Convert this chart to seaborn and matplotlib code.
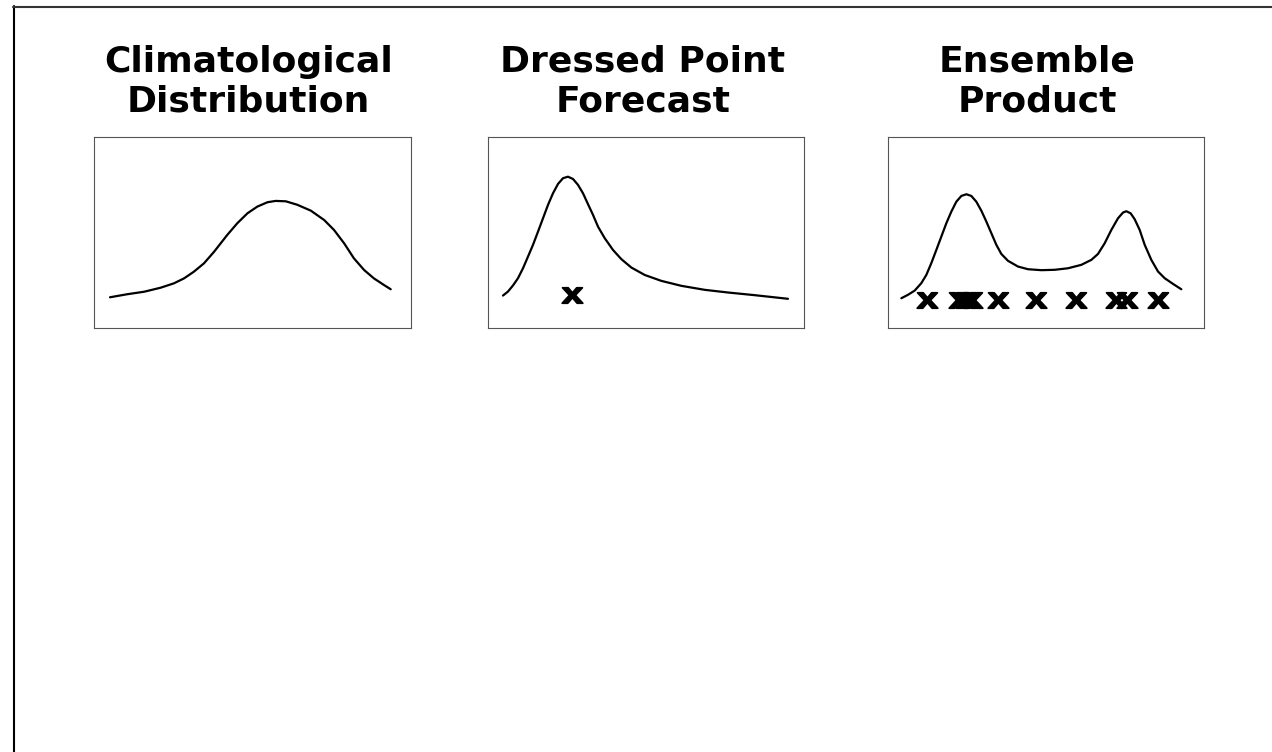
import numpy as np
import pandas as pd
import matplotlib
matplotlib.use("Agg")
import matplotlib.pyplot as plt
import seaborn as sns
from matplotlib.textpath import TextPath
from matplotlib.font_manager import FontProperties
from matplotlib.path import Path
from matplotlib.lines import Line2D

# ---------------- data (schematic units, 0-100 in each panel) ----------------
titles = ["Climatological\nDistribution", "Dressed Point\nForecast", "Ensemble\nProduct"]

clim_x = [5.05, 10.5, 15.8, 21.0, 25.2, 28.4, 31.5, 34.7, 37.9, 42.0, 45.2, 48.4, 51.5,
          54.7, 57.3, 60.5, 64.1, 68.4, 72.6, 75.7, 78.9, 82.0, 85.2, 88.3, 91.5, 93.6]
clim_y = [16.0, 17.6, 18.9, 21.0, 23.3, 25.9, 29.4, 33.8, 39.9, 48.6, 54.8, 60.0, 63.5,
          65.8, 66.5, 66.3, 64.5, 61.4, 56.5, 51.3, 44.3, 36.4, 30.3, 25.9, 22.4, 20.2]

dressed_x = [4.65, 6.23, 7.82, 9.40, 10.98, 12.56, 14.15, 15.73, 17.31, 18.89, 20.47,
             22.06, 23.64, 25.22, 26.80, 28.39, 29.97, 31.55, 33.13, 34.72, 36.83,
             39.46, 42.09, 45.25, 49.49, 54.75, 61.08, 68.48, 75.85, 84.30, 94.84]
dressed_y = [16.9, 19.0, 22.2, 26.0, 31.2, 37.3, 43.5, 50.4, 57.4, 64.4, 70.5,
             75.4, 78.4, 79.2, 78.0, 74.9, 70.5, 64.8, 59.2, 53.0, 47.0,
             40.8, 36.0, 31.6, 27.7, 24.6, 22.0, 19.9, 18.5, 17.1, 15.2]
point_x = [26.4]
point_y = [17.3]

ens_x = [4.31, 6.41, 8.52, 10.62, 12.20, 13.78, 15.36, 16.94, 18.52, 20.10, 21.68,
         23.26, 24.84, 26.42, 27.99, 29.57, 31.15, 32.73, 34.31, 35.89, 38.00, 41.16,
         44.32, 48.53, 52.74, 56.95, 61.16, 64.32, 66.42, 68.53, 70.64, 72.74, 74.32,
         75.37, 76.74, 78.01, 79.59, 81.17, 83.27, 85.38, 87.48, 90.12, 92.74]
ens_y = [15.5, 17.3, 19.5, 23.4, 27.7, 33.9, 40.8, 47.8, 54.8, 60.9, 66.1,
         69.1, 70.0, 69.1, 66.1, 61.4, 55.7, 49.6, 43.5, 38.7, 35.1, 32.1,
         30.7, 30.2, 30.4, 31.2, 33.0, 35.6, 38.7, 44.3, 51.3, 57.4, 60.4,
         61.1, 60.0, 56.9, 51.3, 43.5, 35.6, 29.5, 26.0, 23.0, 20.2]
member_x = [12.3, 22.5, 24.7, 26.6, 34.7, 46.9, 59.6, 72.0, 75.6, 85.4]
member_y = [14.7, 14.7, 14.7, 14.7, 14.7, 14.7, 14.7, 14.7, 14.7, 14.7]

# ---------------- style ----------------
sns.set_style("white")
plt.rcParams["font.family"] = ["DejaVu Sans"]

# bold "x" glyph marker, widened like the reference
tp = TextPath((0, 0), "x", size=1,
              prop=FontProperties(family="Liberation Sans", weight="bold"))
ext = tp.get_extents()
v = tp.vertices.copy()
v[:, 0] = (v[:, 0] - (ext.x0 + ext.x1) / 2) * 1.3
v[:, 1] = v[:, 1] - (ext.y0 + ext.y1) / 2
x_marker = Path(v, tp.codes)

fig = plt.figure(figsize=(12.72, 7.52), dpi=100)
fig.patch.set_facecolor("white")

W, H = 1272, 752
boxes = [(94, 317), (488.3, 316), (887.7, 316.6)]
bottom = 1 - 327.8 / H
height = 190.8 / H
title_cx = [248.5, 643.0, 1037.0]

curves = [(clim_x, clim_y), (dressed_x, dressed_y), (ens_x, ens_y)]
marks = [None, (point_x, point_y), (member_x, member_y)]

for i in range(3):
    left, w = boxes[i]
    ax = fig.add_axes([left / W, bottom, w / W, height])
    cx, cy = curves[i]
    df = pd.DataFrame({"x": cx, "y": cy})
    sns.lineplot(data=df, x="x", y="y", ax=ax, color="black", linewidth=1.6,
                 sort=False, estimator=None)
    if marks[i] is not None:
        mdf = pd.DataFrame({"x": marks[i][0], "y": marks[i][1]})
        sns.scatterplot(data=mdf, x="x", y="y", ax=ax, marker=x_marker, s=230,
                        color="black", edgecolor="black", linewidth=1.3, zorder=3)
    ax.set_xlim(0, 100)
    ax.set_ylim(0, 100)
    ax.set_xticks([])
    ax.set_yticks([])
    ax.set_xlabel("")
    ax.set_ylabel("")
    for sp in ax.spines.values():
        sp.set_color("#555555")
        sp.set_linewidth(0.8)
    fig.text(title_cx[i] / W, 1 - 45 / H, titles[i], ha="center", va="top",
             fontsize=26, fontweight="bold", linespacing=1.2, color="black")

# slide frame lines (left and top)
fig.add_artist(Line2D([13.5 / W, 13.5 / W], [0, 1 - 5.5 / H],
                      transform=fig.transFigure, color="black", linewidth=1.5))
fig.add_artist(Line2D([12.8 / W, 1], [1 - 6.5 / H, 1 - 6.5 / H],
                      transform=fig.transFigure, color="#333333", linewidth=1.5))

fig.savefig("out.png", dpi=100, facecolor="white")
